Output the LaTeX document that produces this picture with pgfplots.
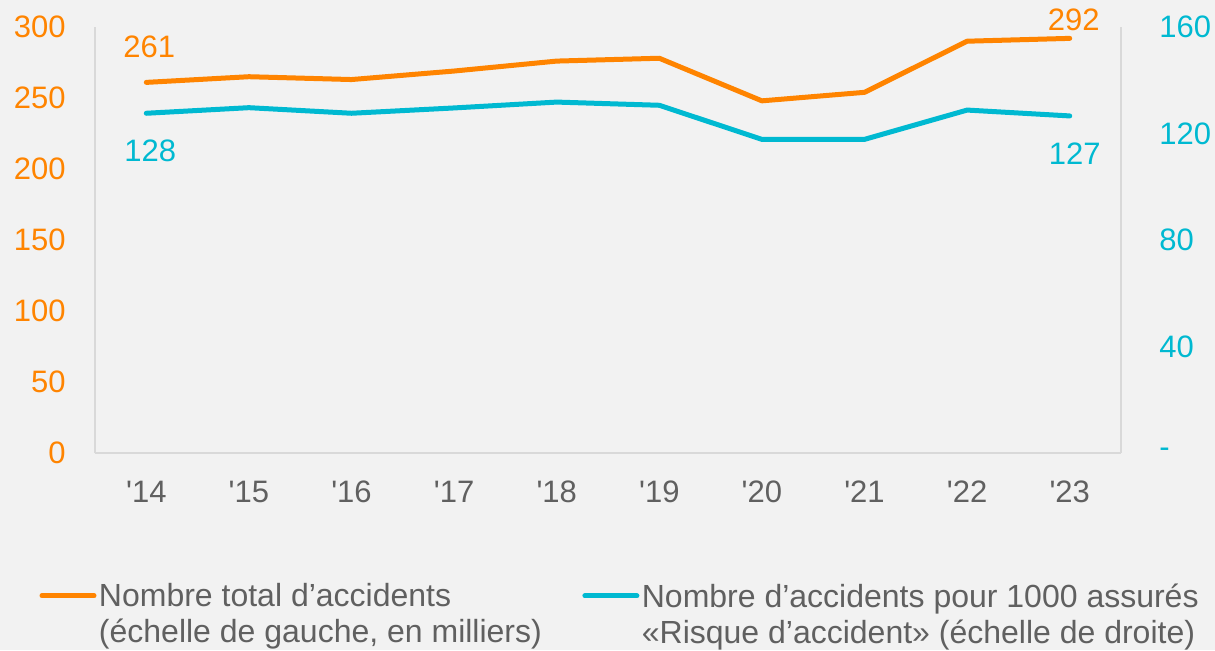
\documentclass[border=0pt]{standalone}
\usepackage{fontspec}
\setmainfont{Liberation Sans}[Ligatures=TeXOff]
\usepackage{pgfplots}
\pgfplotsset{compat=1.18}
\definecolor{orng}{HTML}{FF8400}
\definecolor{cyn}{HTML}{00B9D1}
\definecolor{txt}{HTML}{606060}
\definecolor{axl}{HTML}{D9D9D9}
\definecolor{bg}{HTML}{F2F2F2}
\newcommand{\fs}{\fontsize{15.5pt}{18pt}\selectfont}
\newcommand{\fl}{\fontsize{16pt}{18pt}\selectfont}
\begin{document}
\begin{tikzpicture}
\fill[bg] (0,0) rectangle (607.5pt,325pt);
\begin{axis}[
  at={(47.5pt,98.5pt)}, anchor=south west,
  width=513pt, height=213pt, scale only axis, clip=false,
  xmin=-0.5, xmax=9.5, ymin=0, ymax=300,
  axis x line=bottom, axis y line=left,
  axis line style={-, draw=axl, line width=0.75pt},
  major tick length=0pt,
  xtick={0,...,9},
  xticklabels={'14,'15,'16,'17,'18,'19,'20,'21,'22,'23},
  xticklabel style={anchor=center, inner sep=0pt, yshift=-19.5pt, text=txt, font=\fs},
  ytick={0,50,...,300},
  yticklabels={0,50,100,150,200,250,300},
  yticklabel style={anchor=east, inner sep=0pt, xshift=-14.5pt, text=orng, font=\fs},
  legend columns=2,
  legend cell align=left,
  legend style={draw=none, fill=none, inner sep=0pt, outer sep=0pt,
    at={(axis description cs:-0.05409,-0.3066)}, anchor=north west,
    font=\fl, text=txt, cells={align=left}, nodes={inner sep=0pt},
    column sep=0pt,
    /tikz/every odd column/.append style={column sep=1.25pt},
    /tikz/every even column/.append style={column sep=20.25pt}},
  legend image code/.code={\draw[#1] (0pt,9.5pt) -- (26pt,9.5pt);},
]
\addplot[orng, line width=2.5pt, line cap=round, line join=round] coordinates {
  (0,261) (1,265) (2,263) (3,269) (4,276) (5,278) (6,248) (7,254) (8,290) (9,292)};
\addlegendentry{Nombre total d’accidents\\(échelle de gauche, en milliers)}
\addlegendimage{cyn, line width=2.5pt, line cap=round}
\addlegendentry{Nombre d’accidents pour 1000 assurés\\«Risque d’accident» (échelle de droite)}
\node[text=orng, font=\fs, xshift=1.5pt, yshift=18pt] at (axis cs:0,261) {261};
\node[text=orng, font=\fs, xshift=2pt, yshift=9.25pt] at (axis cs:9,292) {292};
\end{axis}
\begin{axis}[
  at={(47.5pt,98.5pt)}, anchor=south west,
  width=513pt, height=213pt, scale only axis, clip=false,
  xmin=-0.5, xmax=9.5, ymin=0, ymax=160,
  axis x line=none, axis y line=right,
  axis line style={-, draw=axl, line width=0.75pt},
  major tick length=0pt,
  ytick={0,40,...,160},
  yticklabels={-,40,80,120,160},
  yticklabel style={anchor=west, inner sep=0pt, xshift=19pt, text=cyn, font=\fs},
]
\addplot[cyn, line width=2.5pt, line cap=round, line join=round] coordinates {
  (0,127.6) (1,129.7) (2,127.6) (3,129.6) (4,131.8) (5,130.6) (6,117.8) (7,117.8) (8,128.8) (9,126.6)};
\node[text=cyn, font=\fs, xshift=2pt, yshift=-19pt] at (axis cs:0,127.6) {128};
\node[text=cyn, font=\fs, xshift=2.5pt, yshift=-19pt] at (axis cs:9,126.6) {127};
\end{axis}
\pgfresetboundingbox
\useasboundingbox (0,0) rectangle (607.5pt,325pt);
\end{tikzpicture}
\end{document}
